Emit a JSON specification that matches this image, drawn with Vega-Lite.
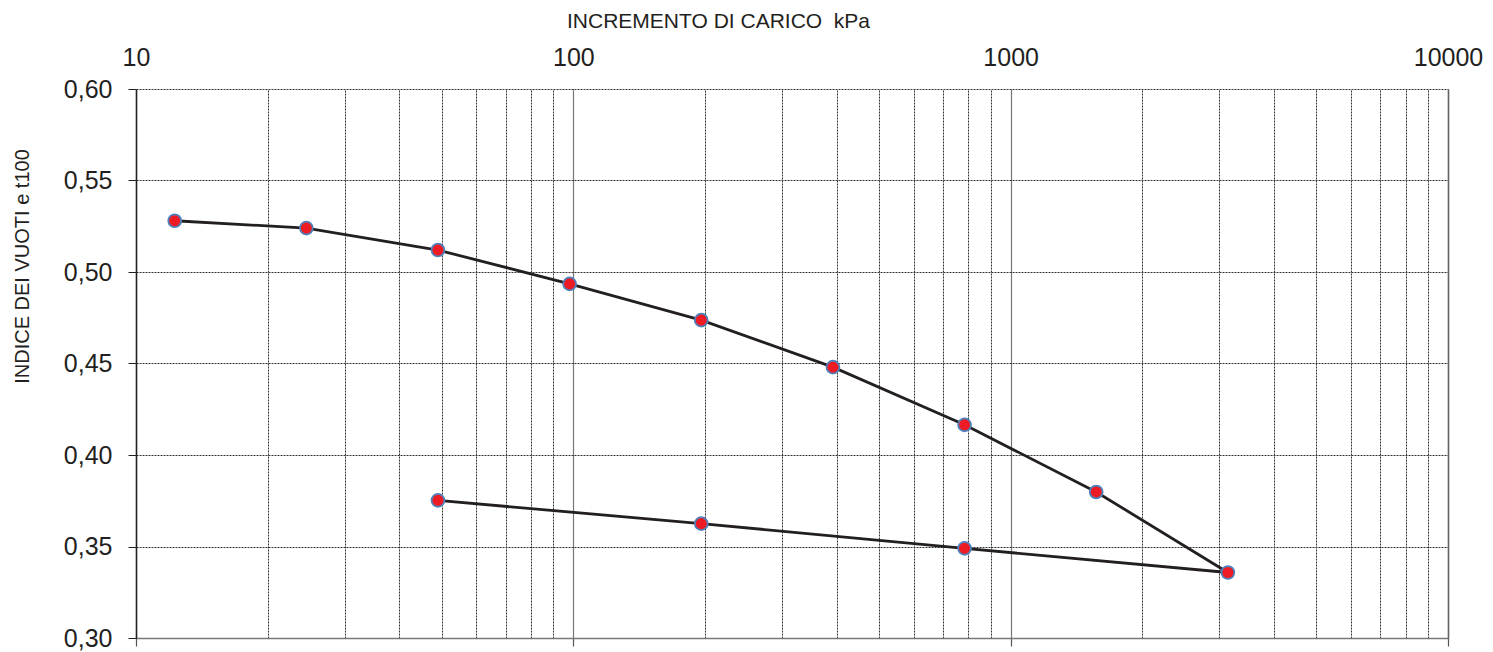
{
  "$schema": "https://vega.github.io/schema/vega-lite/v6.json",
  "width": 1312,
  "height": 549,
  "autosize": "none",
  "padding": {"left": 136, "top": 89, "right": 45, "bottom": 14},
  "background": "white",
  "config": {
    "view": {"stroke": null},
    "font": "Liberation Sans",
    "axis": {"labelFont": "Liberation Sans", "titleFont": "Liberation Sans", "labelColor": "#231f20", "titleColor": "#231f20"}
  },
  "data": {
    "values": [
      {"order": 1, "load": 12.26, "e": 0.528},
      {"order": 2, "load": 24.52, "e": 0.524},
      {"order": 3, "load": 49.03, "e": 0.512},
      {"order": 4, "load": 98.07, "e": 0.4935},
      {"order": 5, "load": 196.1, "e": 0.4737},
      {"order": 6, "load": 392.3, "e": 0.448},
      {"order": 7, "load": 784.5, "e": 0.4165},
      {"order": 8, "load": 1569, "e": 0.3798},
      {"order": 9, "load": 3138, "e": 0.3358},
      {"order": 10, "load": 784.5, "e": 0.349},
      {"order": 11, "load": 196.1, "e": 0.3625},
      {"order": 12, "load": 49.03, "e": 0.3752}
    ]
  },
  "layer": [
    {
      "mark": {"type": "line", "color": "#231f20", "strokeWidth": 2.8},
      "encoding": {
        "x": {
          "field": "load", "type": "quantitative",
          "scale": {"type": "log", "domain": [10, 10000], "nice": false},
          "axis": {
            "orient": "top",
            "values": [10,20,30,40,50,60,70,80,90,100,200,300,400,500,600,700,800,900,1000,2000,3000,4000,5000,6000,7000,8000,9000,10000],
            "grid": true, "gridDash": [2, 1], "gridColor": "#333", "gridWidth": 1,
            "domain": false, "ticks": false, "tickSize": 0,
            "labelExpr": "indexof([10,100,1000,10000], datum.value) >= 0 ? format(datum.value, 'd') : ''",
            "labelOverlap": false, "labelFlush": false,
            "labelFontSize": 25, "labelPadding": 24, "labelBaseline": "alphabetic",
            "title": "INCREMENTO DI CARICO \u00a0kPa",
            "titleFontSize": 21, "titleFontWeight": "normal",
            "titleX": 582, "titleY": -62, "titleAlign": "center", "titleBaseline": "alphabetic", "titleAnchor": null
          }
        },
        "y": {
          "field": "e", "type": "quantitative",
          "scale": {"domain": [0.30, 0.60], "nice": false, "zero": false},
          "axis": {
            "orient": "left",
            "values": [0.30, 0.35, 0.40, 0.45, 0.50, 0.55, 0.60],
            "grid": true, "gridDash": [2, 1], "gridColor": "#333", "gridWidth": 1,
            "domain": true, "domainColor": "#231f20", "domainWidth": 1.5,
            "ticks": true, "tickSize": 8, "tickColor": "#231f20", "tickWidth": 1,
            "labelExpr": "replace(format(datum.value, '.2f'), '.', ',')",
            "labelFontSize": 25, "labelPadding": 16, "labelBaseline": "middle",
            "title": "INDICE DEI VUOTI e t100",
            "titleFontSize": 20, "titleFontWeight": "normal",
            "titleAngle": -90, "titleX": -108, "titleY": 177, "titleAlign": "center", "titleBaseline": "alphabetic"
          }
        },
        "order": {"field": "order", "type": "quantitative"}
      }
    },
    {
      "mark": {"type": "point", "filled": true, "fill": "#ed1c24", "stroke": "#4f81bd", "strokeWidth": 1.8, "size": 165, "opacity": 1, "shape": "circle"},
      "encoding": {
        "x": {
          "field": "load", "type": "quantitative",
          "scale": {"type": "log", "domain": [10, 10000], "nice": false},
          "axis": {
            "orient": "bottom",
            "values": [10, 100, 1000, 10000],
            "grid": true, "gridColor": "#777", "gridWidth": 1.2,
            "domain": true, "domainColor": "#777", "domainWidth": 1.5,
            "ticks": true, "tickSize": 8, "tickColor": "#555", "tickWidth": 1.2,
            "labels": false, "title": null
          }
        },
        "y": {
          "field": "e", "type": "quantitative",
          "scale": {"domain": [0.30, 0.60], "nice": false, "zero": false},
          "axis": {
            "orient": "right",
            "grid": false, "domain": true, "domainColor": "#666", "domainWidth": 1.5,
            "ticks": false, "labels": false, "title": null
          }
        }
      }
    }
  ],
  "resolve": {"axis": {"x": "independent", "y": "independent"}}
}
